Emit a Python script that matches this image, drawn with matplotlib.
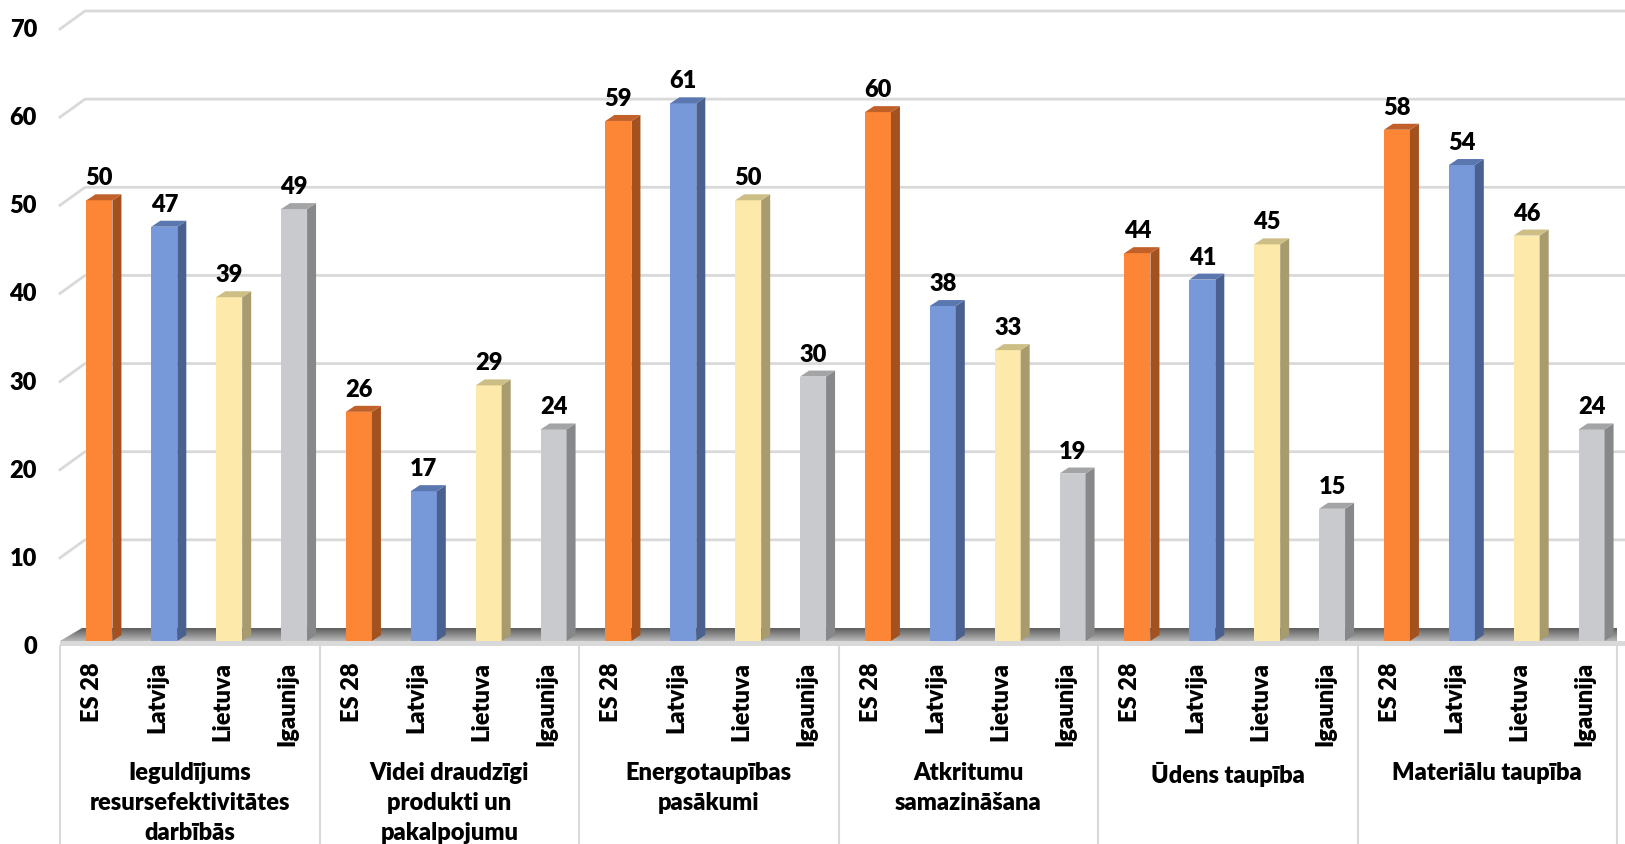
import numpy as np
import matplotlib.pyplot as plt
from matplotlib.patches import Polygon
from matplotlib.colors import LinearSegmentedColormap

plt.rcParams['font.family'] = ['Lato', 'DejaVu Sans']

# data
groups = ["Ieguldījums\nresursefektivitātes\ndarbībās",
          "Videi draudzīgi\nprodukti un\npakalpojumu",
          "Energotaupības\npasākumi",
          "Atkritumu\nsamazināšana",
          "Ūdens taupība",
          "Materiālu taupība"]
countries = ["ES 28", "Latvija", "Lietuva", "Igaunija"]
es28 = [50, 26, 59, 60, 44, 58]
latvija = [47, 17, 61, 38, 41, 54]
lietuva = [39, 29, 50, 33, 45, 46]
igaunija = [49, 24, 30, 19, 15, 24]
yticks = [0, 10, 20, 30, 40, 50, 60, 70]

series = [es28, latvija, lietuva, igaunija]
front_colors = ['#FD8636', '#7799DA', '#FDEAAA', '#C9CACE']
side_colors = ['#A3521F', '#4A6190', '#A89B6E', '#87888A']
top_colors = ['#C2602A', '#5B77B0', '#CDBE85', '#A3A4A6']

FS = 17
FW = 'heavy'

W, H = 1625, 845
fig = plt.figure(figsize=(W / 100, H / 100), dpi=100)
ax = fig.add_axes([60 / W, (H - 647) / H, (1617 - 60) / W, (647 - 30) / H])
n_slots = len(groups) * len(countries)
px = n_slots / (1617 - 60)   # data units per pixel, x
py = 70 / (647 - 30)         # data units per pixel, y
x_end = n_slots + 8 * px     # right edge of the figure

# back wall gridlines
for v in yticks[1:]:
    ax.plot([0, 25 * px, x_end], [v, v + 18 * py, v + 18 * py],
            color='#D9D9D9', lw=2, clip_on=False, zorder=0)

# floor (top surface with gradient + thin front face)
floor = Polygon([(0, 5 * py), (x_end, 5 * py), (x_end, 18 * py), (22 * px, 18 * py)],
                closed=True, facecolor='none', edgecolor='none', transform=ax.transData)
ax.add_patch(floor)
cmap = LinearSegmentedColormap.from_list('floor', ['#B8B8B8', '#5E5E5E'])
img = ax.imshow(np.linspace(0, 1, 64).reshape(-1, 1), cmap=cmap, origin='lower',
                extent=(0, x_end, 5 * py, 18 * py), aspect='auto', zorder=1)
img.set_clip_path(floor)
ax.add_patch(Polygon([(0, 0), (x_end, 0), (x_end, 5 * py), (0, 5 * py)],
                     facecolor='#D9D9D9', edgecolor='none', clip_on=False, zorder=1))

# bars
dx, dy = 9 * px, 6 * py
b = 5 * py
for c, vals in enumerate(series):
    for g, v in enumerate(vals):
        slot = g * len(countries) + c
        xc = slot + 0.5 + 7 * px
        xl, xr = xc - 13 * px, xc + 13 * px
        top = b + v
        ax.add_patch(Polygon([(xl, b), (xr, b), (xr, top), (xl, top)],
                             facecolor=front_colors[c], edgecolor='none', zorder=3))
        ax.add_patch(Polygon([(xr, b), (xr + dx, b + dy), (xr + dx, top + dy), (xr, top)],
                             facecolor=side_colors[c], edgecolor='none', zorder=3))
        ax.add_patch(Polygon([(xl, top), (xr, top), (xr + dx, top + dy), (xl + dx, top + dy)],
                             facecolor=top_colors[c], edgecolor='none', zorder=3))
        ax.text(xc, top + 12 * py, str(v), ha='center', va='bottom',
                fontsize=FS, fontweight=FW, zorder=4)
        ax.text(slot + 0.5, -15 * py, countries[c], rotation=90, ha='center', va='top',
                fontsize=FS, fontweight=FW, clip_on=False)

# y tick labels
for v in yticks:
    ax.text(-23 * px, v, str(v), ha='right', va='center', fontsize=FS, fontweight=FW)

# group labels and separators
for g, label in enumerate(groups):
    ax.text(g * 4 + 2, -(762 - 647) * py, label, ha='center', va='top',
            fontsize=FS, fontweight=FW, linespacing=1.45, clip_on=False)
for g in range(len(groups) + 1):
    ax.plot([g * 4, g * 4], [0, -(H - 647) * py], color='#D9D9D9', lw=1.5,
            clip_on=False, zorder=0)

ax.set_xlim(0, n_slots)
ax.set_ylim(0, 70)
ax.set_axis_off()

fig.savefig('out.png', dpi=100)
